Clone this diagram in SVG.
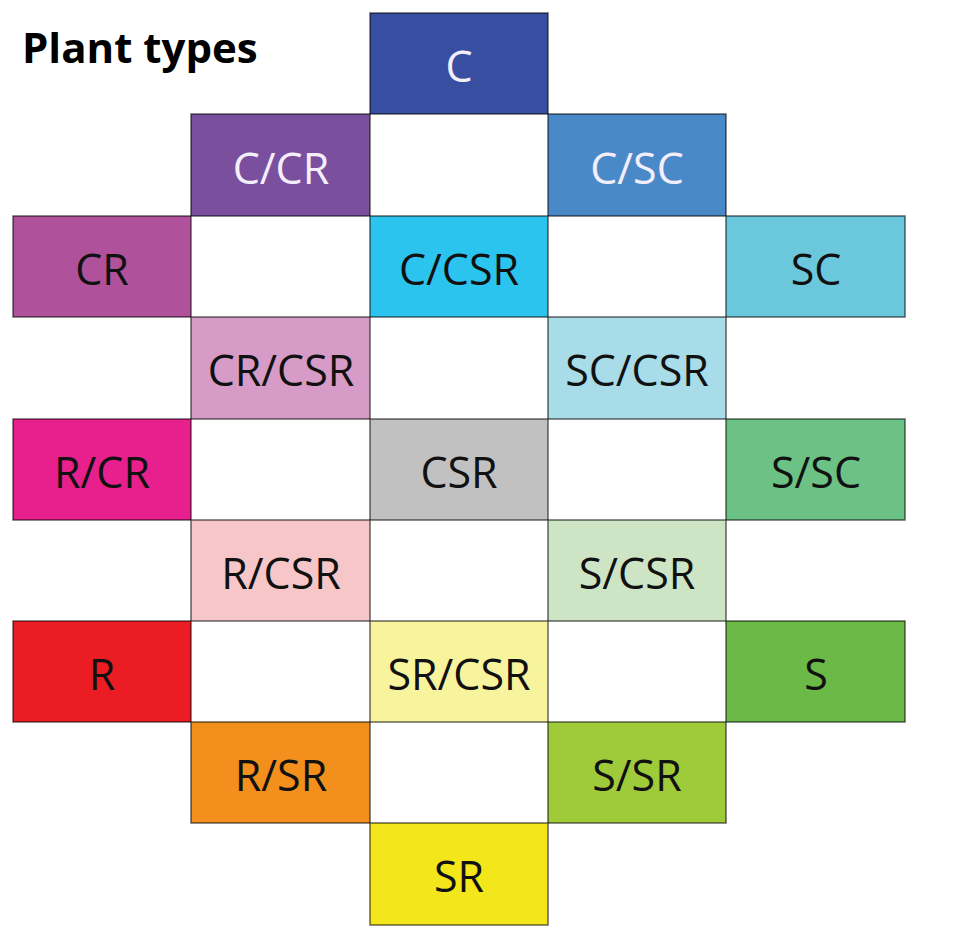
<svg xmlns="http://www.w3.org/2000/svg" width="966" height="952" viewBox="0 0 966 952">
<style>
.b{stroke:#000;stroke-opacity:0.6;stroke-width:1.5}
.t{font-family:"Open Sans","Noto Sans","Liberation Sans",sans-serif;font-size:43px;text-anchor:middle;fill:#111}
.w{fill:#f3eefa}
.title{font-family:"Open Sans","Noto Sans","Liberation Sans",sans-serif;font-size:42px;font-weight:bold;fill:#000}
</style>
<rect width="966" height="952" fill="#fff"/>
<text class="title" x="22" y="63">Plant types</text>
<g id="C"><rect class="b" x="370" y="13" width="178" height="101" fill="#384ea1"/><text class="t w" x="459" y="82">C</text></g>
<g id="C-CR"><rect class="b" x="191" y="114" width="179" height="102" fill="#7a4f9e"/><text class="t w" x="281" y="184">C/CR</text></g>
<g id="C-SC"><rect class="b" x="548" y="114" width="178" height="102" fill="#4a89c8"/><text class="t w" x="637" y="184">C/SC</text></g>
<g id="CR"><rect class="b" x="13" y="216" width="178" height="101" fill="#b0519b"/><text class="t" x="102" y="285">CR</text></g>
<g id="C-CSR"><rect class="b" x="370" y="216" width="178" height="101" fill="#2bc4ef"/><text class="t" x="459" y="285">C/CSR</text></g>
<g id="SC"><rect class="b" x="726" y="216" width="179" height="101" fill="#6bc8dc"/><text class="t" x="816" y="285">SC</text></g>
<g id="CR-CSR"><rect class="b" x="191" y="317" width="179" height="102" fill="#d69bc7"/><text class="t" x="281" y="386">CR/CSR</text></g>
<g id="SC-CSR"><rect class="b" x="548" y="317" width="178" height="102" fill="#a7dce8"/><text class="t" x="637" y="386">SC/CSR</text></g>
<g id="R-CR"><rect class="b" x="13" y="419" width="178" height="101" fill="#e8208e"/><text class="t" x="102" y="488">R/CR</text></g>
<g id="CSR"><rect class="b" x="370" y="419" width="178" height="101" fill="#c1c1c1"/><text class="t" x="459" y="488">CSR</text></g>
<g id="S-SC"><rect class="b" x="726" y="419" width="179" height="101" fill="#6cc184"/><text class="t" x="816" y="488">S/SC</text></g>
<g id="R-CSR"><rect class="b" x="191" y="520" width="179" height="101" fill="#f7c6c8"/><text class="t" x="281" y="589">R/CSR</text></g>
<g id="S-CSR"><rect class="b" x="548" y="520" width="178" height="101" fill="#cde5c5"/><text class="t" x="637" y="589">S/CSR</text></g>
<g id="R"><rect class="b" x="13" y="621" width="178" height="101" fill="#ec1c24"/><text class="t" x="102" y="690">R</text></g>
<g id="SR-CSR"><rect class="b" x="370" y="621" width="178" height="101" fill="#f8f49d"/><text class="t" x="459" y="690">SR/CSR</text></g>
<g id="S"><rect class="b" x="726" y="621" width="179" height="101" fill="#6bb946"/><text class="t" x="816" y="690">S</text></g>
<g id="R-SR"><rect class="b" x="191" y="722" width="179" height="101" fill="#f38f1d"/><text class="t" x="281" y="791">R/SR</text></g>
<g id="S-SR"><rect class="b" x="548" y="722" width="178" height="101" fill="#9fcb3b"/><text class="t" x="637" y="791">S/SR</text></g>
<g id="SR"><rect class="b" x="370" y="823" width="178" height="102" fill="#f3e61a"/><text class="t" x="459" y="892">SR</text></g>
<g id="connectors"></g>
</svg>
